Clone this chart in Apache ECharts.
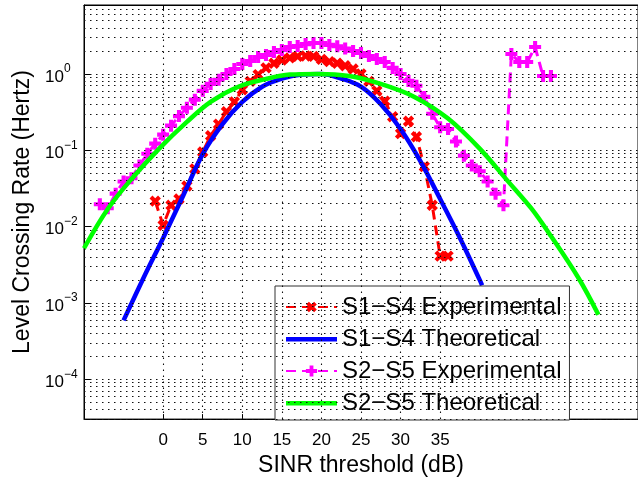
<!DOCTYPE html>
<html><head><meta charset="utf-8">
<script src="https://cdn.jsdelivr.net/npm/echarts@6/dist/echarts.min.js"></script>
<style>html,body{margin:0;padding:0;background:#fff}#c{width:638px;height:482px}</style>
</head><body><div id="c"></div>
<script>
// ---- data ----
const xTickValues = [0, 5, 10, 15, 20, 25, 30, 35];
const yDecades = [1e-5, 1e-4, 1e-3, 1e-2, 1e-1, 1];

const s14ExpX = [-1,0,1,2,3,4,5,6,7,8,9,10,11,12,13,14,15,16,17,18,19,20,21,22,23,24,25,26,27,28,29,30,31,32,33,34,35,36];
const s14ExpY = [0.0215,0.0104,0.019,0.023,0.034,0.057,0.095,0.155,0.22,0.32,0.43,0.62,0.80,0.98,1.2,1.38,1.52,1.62,1.70,1.72,1.70,1.55,1.45,1.38,1.28,1.16,1.0,0.80,0.60,0.44,0.275,0.165,0.24,0.15,0.061,0.019,0.0041,0.0041];

const s14ThX = [-5,-2.5,0,2.5,5,7.5,10,12.5,15,17.5,20,22.5,25,27.5,30,32.5,35,37.5,40,40.3];
const s14ThY = [0.00059,0.0021,0.0071,0.025,0.089,0.22,0.43,0.68,0.87,0.98,1.0,0.87,0.68,0.40,0.19,0.072,0.023,0.0071,0.002,0.0017];

const s25ExpX = [-8,-7,-6,-5,-4,-3,-2,-1,0,1,2,3,4,5,6,7,8,9,10,11,12,13,14,15,16,17,18,19,20,21,22,23,24,25,26,27,28,29,30,31,32,33,34,35,36,37,38,39,40,41,42,43,44,45,46,47,48,49];
const s25ExpY = [0.0196,0.0174,0.027,0.039,0.043,0.063,0.09,0.122,0.16,0.21,0.28,0.36,0.46,0.60,0.74,0.84,1.0,1.16,1.35,1.48,1.67,1.77,1.94,2.06,2.25,2.32,2.46,2.54,2.54,2.4,2.3,2.15,2.0,1.88,1.72,1.57,1.43,1.20,1.0,0.81,0.70,0.50,0.30,0.20,0.19,0.13,0.085,0.063,0.053,0.039,0.027,0.019,1.82,1.43,1.43,2.25,0.94,0.94];

const s25ThX = [-10,-7,-4,-0.5,3,6,9.5,13,16,19.5,23.5,27.5,31.75,36,40,43.5,46.5,49,52.5,55];
const s25ThY = [0.0052,0.017,0.042,0.105,0.235,0.43,0.68,0.86,0.98,1.0,0.94,0.74,0.5,0.26,0.105,0.04,0.0174,0.0075,0.0021,0.0007];

const names = ['S1\u2212S4 Experimental','S1\u2212S4 Theoretical','S2\u2212S5 Experimental','S2\u2212S5 Theoretical'];

// ---- build ----
const FONT = 'Liberation Sans';
function pairs(xs, ys){ return xs.map((x,i)=>[x, ys[i]]); }
const yMin = 3e-5, yMax = 8, xMin = -10, xMax = 60;
const gridH = [];
yDecades.forEach(d => { for (let k = 1; k <= 9; k++) { const v = k*d; if (v > yMin && v < yMax) gridH.push(v); } });
const dotStyle = {type:[1.5,4.5], color:'#111', width:1.1};
const markData = gridH.map(v => [{coord:[xMin, v]}, {coord:[xMax, v]}])
  .concat(xTickValues.map(v => [{coord:[v, yMin]}, {coord:[v, yMax]}]));

const plus = 'path://M3.3 0H6.7V3.3H10V6.7H6.7V10H3.3V6.7H0V3.3H3.3Z';
const barIcon = 'path://M0 0M0 14M0 5H51V9.5H0Z';

const chart = echarts.init(document.getElementById('c'), null, {renderer:'canvas'});
chart.setOption({
  animation: false,
  backgroundColor: '#fff',
  textStyle: {fontFamily: FONT, color:'#000'},
  grid: {left: 84, top: 5, width: 560, height: 418, show: true, borderColor:'#000', borderWidth: 1, backgroundColor:'transparent'},
  legend: {
    orient: 'vertical', left: 275, top: 286,
    padding: [9, 8, 5, 10], itemGap: 8, itemWidth: 51, itemHeight: 14,
    backgroundColor: '#fff', borderColor: '#333', borderWidth: 1, borderRadius: 0,
    textStyle: {fontFamily: FONT, fontSize: 24, color:'#000', lineHeight: 23},
    data: [
      {name: names[0]},
      {name: names[1], icon: barIcon, itemStyle: {color:'#0000ff'}},
      {name: names[2]},
      {name: names[3], icon: barIcon, itemStyle: {color:'#00ff00'}}
    ]
  },
  xAxis: [{
    type: 'value', min: xMin, max: xMax, interval: 5,
    name: 'SINR threshold (dB)', nameLocation: 'middle', nameGap: 27,
    nameTextStyle: {fontFamily: FONT, fontSize: 23, color:'#000'},
    axisLine: {show: true, onZero: false, lineStyle: {color:'#000', width: 1}},
    axisTick: {show: true, inside: true, length: 5, customValues: xTickValues, lineStyle:{color:'#000'}},
    axisLabel: {customValues: xTickValues, fontFamily: FONT, fontSize: 17, color:'#000', margin: 13},
    splitLine: {show: false}
  },{
    type: 'value', min: xMin, max: xMax, interval: 5, position: 'top',
    axisLine: {show: true, onZero: false, lineStyle: {color:'#000'}},
    axisTick: {show: true, inside: true, length: 5, customValues: xTickValues, lineStyle:{color:'#000'}},
    axisLabel: {show: false}, splitLine: {show: false}
  }],
  yAxis: {
    type: 'log', logBase: 10, min: yMin, max: yMax,
    name: 'Level Crossing Rate (Hertz)', nameLocation: 'middle', nameGap: 48,
    nameTextStyle: {fontFamily: FONT, fontSize: 23, color:'#000'},
    axisLine: {show: true, onZero: false, lineStyle: {color:'#000'}},
    axisTick: {show: true, inside: true, length: 6, lineStyle:{color:'#000'}},
    splitLine: {show: false},
    axisLabel: {
      showMinLabel: false, showMaxLabel: false, align: 'left', margin: 39,
      padding: [6, 0, 0, 0],
      formatter: v => { const e = Math.round(Math.log10(v)); return '{b|10}{e|' + (e < 0 ? '\u2212' + (-e) : e) + '}'; },
      rich: {
        b: {fontFamily: FONT, fontSize: 17, lineHeight: 28, color:'#000'},
        e: {fontFamily: FONT, fontSize: 12, lineHeight: 14, verticalAlign: 'top', color:'#000'}
      }
    }
  },
  series: [
    {
      type: 'line', name: '_grid', data: [], z: 1, silent: true,
      markLine: {silent: true, symbol: 'none', label: {show: false}, lineStyle: dotStyle, animation: false, data: markData}
    },
    {
      type: 'line', name: names[0], data: pairs(s14ExpX, s14ExpY), z: 2,
      symbol: plus, symbolRotate: 45, symbolSize: 12, showAllSymbol: true,
      itemStyle: {color: '#ff0000'},
      lineStyle: {color: '#ff0000', width: 3, type: [10, 6]}
    },
    {
      type: 'line', name: names[1], data: pairs(s14ThX, s14ThY), z: 3,
      symbol: 'none', smooth: 0.35,
      itemStyle: {color: '#0000ff'},
      lineStyle: {color: '#0000ff', width: 4.5}
    },
    {
      type: 'line', name: names[2], data: pairs(s25ExpX, s25ExpY), z: 4,
      symbol: plus, symbolSize: 12, showAllSymbol: true,
      itemStyle: {color: '#ff00ff'},
      lineStyle: {color: '#ff00ff', width: 3, type: [10, 6]}
    },
    {
      type: 'line', name: names[3], data: pairs(s25ThX, s25ThY), z: 5,
      symbol: 'none', smooth: 0.35,
      itemStyle: {color: '#00ff00'},
      lineStyle: {color: '#00ff00', width: 4.5}
    }
  ]
});
</script></body></html>
